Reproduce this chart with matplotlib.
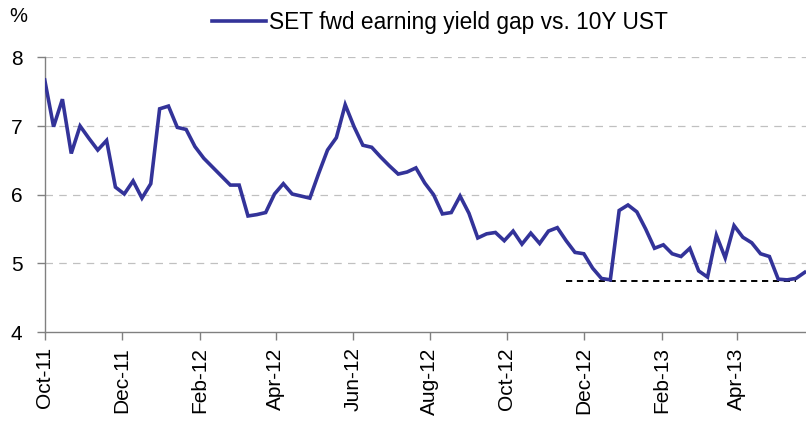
import pandas as pd
import numpy as np
import matplotlib.pyplot as plt
import matplotlib.dates as mdates

plt.rcParams['font.family'] = ['Liberation Sans', 'DejaVu Sans']

# Weekly data, Oct-11 to May-13
start_date = '2011-10-01'
yield_gap = [
    7.67, 6.99, 7.39, 6.60, 7.00, 6.82, 6.65, 6.79, 6.11, 6.01,
    6.20, 5.95, 6.16, 7.25, 7.29, 6.98, 6.95, 6.70, 6.53, 6.40,
    6.27, 6.14, 6.14, 5.69, 5.71, 5.74, 6.01, 6.16, 6.01, 5.98,
    5.95, 6.31, 6.65, 6.83, 7.31, 6.99, 6.72, 6.69, 6.55, 6.42,
    6.30, 6.33, 6.39, 6.17, 6.00, 5.72, 5.74, 5.98, 5.73, 5.37,
    5.43, 5.45, 5.33, 5.47, 5.28, 5.44, 5.29, 5.47, 5.52, 5.33,
    5.16, 5.14, 4.93, 4.78, 4.76, 5.77, 5.85, 5.75, 5.50, 5.22,
    5.27, 5.14, 5.10, 5.22, 4.89, 4.80, 5.41, 5.08, 5.55, 5.38,
    5.30, 5.14, 5.10, 4.77, 4.76, 4.78, 4.87,
]
dates = pd.date_range(start_date, periods=len(yield_gap), freq='7D')

# flat dashed reference at the recent low
low_level = 4.74
low_start, low_end = 59, 85

series_label = 'SET fwd earning yield gap vs. 10Y UST'
tick_months = pd.date_range('2011-10-01', '2013-04-01', freq='2MS')

fig = plt.figure(figsize=(8.06, 4.23), dpi=100)
ax = fig.add_axes([0.0555, 0.215, 0.9445, 0.6495])

ax.plot(dates, yield_gap, color='#333399', linewidth=2.6, label=series_label,
        solid_joinstyle='miter', zorder=3)
ax.plot(dates[low_start:low_end + 1], [low_level] * (low_end - low_start + 1),
        color='black', linewidth=1.4, linestyle=(0, (3.2, 2.4)), zorder=2)

ax.set_ylim(4, 8)
ax.set_yticks([4, 5, 6, 7, 8])
ax.set_xlim(dates[0], dates[-1] + pd.Timedelta(days=1))
ax.set_xticks(tick_months)
ax.xaxis.set_major_formatter(mdates.DateFormatter('%b-%y'))

for v in [5, 6, 7, 8]:
    ax.axhline(v, color='#c0c0c0', linewidth=0.9, linestyle=(0, (6, 5)), zorder=1)

for side in ['top', 'right']:
    ax.spines[side].set_visible(False)
for side in ['left', 'bottom']:
    ax.spines[side].set_color('#808080')
    ax.spines[side].set_linewidth(1.0)

ax.tick_params(axis='both', colors='#808080', labelcolor='black', length=6,
               width=1.0, labelsize=15)
ax.tick_params(axis='y', pad=10)
ax.tick_params(axis='x', pad=5)
plt.setp(ax.get_xticklabels(), rotation=90)

fig.text(0.011, 0.962, '%', fontsize=14.5, ha='left', va='center')

ax.legend(loc='center left', bbox_to_anchor=(0.238, 0.946),
          bbox_transform=fig.transFigure, frameon=False, fontsize=16.4,
          handlelength=2.35, handletextpad=0.12)

fig.savefig('out.png', dpi=100)
